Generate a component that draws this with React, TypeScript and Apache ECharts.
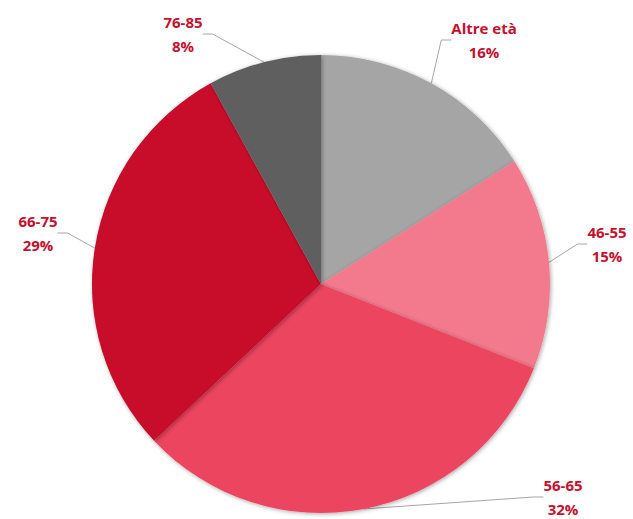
import React, { useEffect, useRef } from "react";
import * as echarts from "echarts";

const categories = ["Altre età", "46-55", "56-65", "66-75", "76-85"];
const values = [16, 15, 32, 29, 8];
const colors = ["#a5a5a5", "#f37a8c", "#ec4560", "#c8082a", "#5f5f5f"];
// label anchor positions (text centre) in px
const labelPos: [number, number][] = [
  [484, 40],
  [607, 244],
  [563, 497],
  [38, 233],
  [183, 34],
];

export default function App() {
  const ref = useRef<HTMLDivElement>(null);
  useEffect(() => {
    if (!ref.current) return;
    const chart = echarts.init(ref.current, null, { renderer: "svg" });
    chart.setOption({
      animation: false,
      backgroundColor: "#ffffff",
      series: [
        {
          type: "pie",
          center: [321, 284],
          radius: 229,
          startAngle: 90,
          clockwise: true,
          data: categories.map((c, i) => ({
            name: c,
            value: values[i],
            itemStyle: { color: colors[i] },
          })),
          itemStyle: {
            shadowBlur: 4,
            shadowColor: "rgba(0,0,0,0.35)",
            shadowOffsetX: 1,
            shadowOffsetY: 1,
          },
          label: {
            show: true,
            position: "outside",
            formatter: "{b}\n{d}%",
            color: "#c8102e",
            fontFamily: "Open Sans, Liberation Sans, sans-serif",
            fontWeight: "bold",
            fontSize: 15,
            lineHeight: 24,
            align: "center",
          },
          labelLine: {
            show: true,
            length: 15,
            length2: 10,
            lineStyle: { color: "#a6a6a6", width: 1 },
          },
          labelLayout: (params: any) => {
            const p = labelPos[params.dataIndex];
            return {
              x: p[0],
              y: p[1],
              align: "center",
              verticalAlign: "middle",
            };
          },
        },
      ],
    });
    return () => chart.dispose();
  }, []);
  return (
    <div
      ref={ref}
      style={{ position: "fixed", left: 0, top: 0, width: 633, height: 519 }}
    />
  );
}
